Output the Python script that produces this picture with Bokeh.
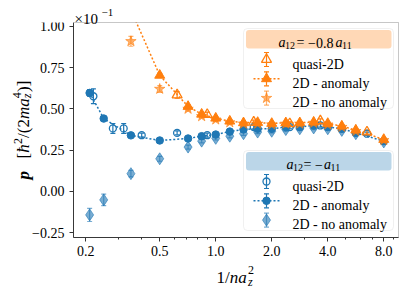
import math
from bokeh.plotting import figure
from bokeh.models import (Range1d, FixedTicker, Label, BoxAnnotation, Whisker,
                          TeeHead, ColumnDataSource)
from bokeh.embed import file_html
from bokeh.resources import INLINE

# ---------------- data ----------------
x_2d = [0.21, 0.25, 0.35, 0.50, 0.71, 0.84, 1.0, 1.19, 1.41, 1.68, 2.0,
        2.38, 2.83, 3.36, 4.0, 4.76, 5.66, 8.0]
blue_anom = [0.597, 0.442, 0.340, 0.309, 0.321, 0.335, 0.345, 0.363, 0.376,
             0.380, 0.380, 0.390, 0.390, 0.400, 0.390, 0.380, 0.355, 0.305]
blue_anom_err = [0.02, 0.01, 0.008, 0.006, 0.006, 0.006, 0.006, 0.006, 0.006,
                 0.006, 0.006, 0.006, 0.006, 0.006, 0.006, 0.006, 0.006, 0.006]
blue_noanom = [-0.142, -0.051, 0.108, 0.198, 0.269, 0.305, 0.322, 0.335, 0.350,
               0.360, 0.365, 0.375, 0.380, 0.385, 0.380, 0.370, 0.350, 0.300]
blue_noanom_err = [0.04, 0.035, 0.02, 0.015, 0.012, 0.01, 0.01, 0.01, 0.01,
                   0.01, 0.01, 0.01, 0.01, 0.01, 0.01, 0.01, 0.01, 0.01]

x_q2d = [0.22, 0.28, 0.32, 0.40, 0.62, 0.90, 1.6, 2.5, 3.65, 6.5]
blue_q2d = [0.577, 0.382, 0.382, 0.341, 0.355, 0.341, 0.390, 0.390, 0.400, 0.350]
blue_q2d_err = [0.045, 0.03, 0.03, 0.012, 0.012, 0.012, 0.012, 0.01, 0.01, 0.01]

x_2d_or = [0.35, 0.50, 0.71, 0.84, 1.0, 1.19, 1.41, 1.68, 2.0, 2.38, 2.83,
           3.36, 4.0, 4.76, 5.66, 8.0]
orange_anom = [1.10, 0.704, 0.515, 0.468, 0.444, 0.426, 0.416, 0.418, 0.412,
               0.416, 0.416, 0.420, 0.412, 0.396, 0.372, 0.315]
orange_anom_err = [0.02, 0.012, 0.01, 0.008, 0.008, 0.008, 0.008, 0.008, 0.008,
                   0.008, 0.008, 0.008, 0.008, 0.008, 0.008, 0.008]
orange_noanom = [0.91, 0.621, 0.500, 0.455, 0.435, 0.418, 0.410, 0.410, 0.405,
                 0.410, 0.410, 0.415, 0.405, 0.390, 0.365, 0.310]
orange_noanom_err = [0.03, 0.02, 0.012, 0.01, 0.01, 0.01, 0.01, 0.01, 0.01,
                     0.01, 0.01, 0.01, 0.01, 0.01, 0.01, 0.01]

x_q2d_or = [0.62, 0.90, 1.6, 2.5, 3.65, 6.5]
orange_q2d = [0.585, 0.466, 0.420, 0.410, 0.428, 0.360]
orange_q2d_err = [0.02, 0.015, 0.012, 0.012, 0.012, 0.012]

x_ticks = [0.2, 0.5, 1.0, 2.0, 4.0, 8.0]
x_tick_labels = ["0.2", "0.5", "1.0", "2.0", "4.0", "8.0"]
x_minor = [0.3, 0.4, 0.6, 0.7, 0.8, 0.9, 3.0, 5.0, 6.0, 7.0, 9.0]
y_ticks = [-0.25, 0.0, 0.25, 0.5, 0.75, 1.0]
y_tick_labels = ["\u22120.25", "0.00", "0.25", "0.50", "0.75", "1.00"]

BLUE = "#1f77b4"
ORANGE = "#ff7f0e"
FONT = "Liberation Serif"

# ---------------- geometry ----------------
X0, X1 = 0.172, 9.6          # visible plot-area data range
Y0, Y1 = -0.279, 1.024
FL, FT, FW, FH = 73, 22, 325, 215   # plot area on the canvas (px)
W, H = 406, 287


def DX(px):
    return X0 * (X1 / X0) ** ((px - FL) / FW)


def DY(py):
    return Y1 - (Y1 - Y0) * (py - FT) / FH


# the frame spans the whole canvas so that texts outside the plot area are not clipped
p = figure(x_axis_type="log", x_range=Range1d(DX(0), DX(W)), y_range=Range1d(DY(H), DY(0)),
           width=W, height=H, min_border=0, min_border_left=0, min_border_right=0,
           min_border_top=0, min_border_bottom=0,
           output_backend="svg", toolbar_location=None)
p.xgrid.visible = False
p.ygrid.visible = False
p.outline_line_color = None
p.background_fill_color = "white"
p.border_fill_color = "white"

p.xaxis.fixed_location = Y0
p.yaxis.fixed_location = X0
p.xaxis.bounds = (X0, X1)
p.yaxis.bounds = (Y0, Y1)
p.xaxis.ticker = FixedTicker(ticks=x_ticks, minor_ticks=x_minor)
p.xaxis.major_label_overrides = dict(zip(x_ticks, x_tick_labels))
p.yaxis.ticker = FixedTicker(ticks=y_ticks)
p.yaxis.major_label_overrides = dict(zip(y_ticks, y_tick_labels))
for ax in (p.xaxis, p.yaxis):
    ax.axis_line_color = "#333333"
    ax.major_tick_line_color = "#333333"
    ax.minor_tick_line_color = "#333333"
    ax.major_tick_in = 0
    ax.major_tick_out = 4
    ax.minor_tick_in = 0
    ax.minor_tick_out = 2
    ax.major_label_text_font = FONT
    ax.major_label_text_font_size = "14px"
    ax.major_label_text_color = "black"
p.yaxis.minor_tick_line_color = None
p.yaxis.major_label_standoff = 5
p.xaxis.major_label_standoff = 4


def errbars(xs, ys, es, color, alpha=1.0, level="underlay"):
    pts = [(x, y, e) for x, y, e in zip(xs, ys, es) if Y0 < y < Y1]
    src = ColumnDataSource(dict(x=[a for a, _, _ in pts],
                                lo=[b - c for _, b, c in pts],
                                hi=[b + c for _, b, c in pts]))
    w = Whisker(source=src, base="x", lower="lo", upper="hi", dimension="height",
                line_color=color, line_alpha=alpha, line_width=1.2, level=level,
                lower_head=TeeHead(size=5, line_color=color, line_alpha=alpha, line_width=1.2),
                upper_head=TeeHead(size=5, line_color=color, line_alpha=alpha, line_width=1.2))
    p.add_layout(w)


DOT = "2 2"

# ----- blue series (a12 = -a11)
errbars(x_2d, blue_noanom, blue_noanom_err, BLUE, 0.6)
p.scatter(x_2d, blue_noanom, marker="diamond", size=12, color=BLUE, alpha=0.6)
errbars(x_2d, blue_anom, blue_anom_err, BLUE)
p.line(x_2d, blue_anom, line_color=BLUE, line_width=1.5, line_dash=DOT)
p.scatter(x_2d, blue_anom, marker="circle", size=7.5, color=BLUE)
errbars(x_q2d, blue_q2d, blue_q2d_err, BLUE)
p.scatter(x_q2d, blue_q2d, marker="circle", size=7, line_color=BLUE,
          fill_color="white", fill_alpha=0.0, line_width=1.3)

# ----- orange series (a12 = -0.8 a11)
errbars(x_2d_or, orange_noanom, orange_noanom_err, ORANGE, 0.6)
p.scatter(x_2d_or, orange_noanom, marker="star", size=11, color=ORANGE, alpha=0.6)
errbars(x_2d_or, orange_anom, orange_anom_err, ORANGE)
p.line(x_2d_or, orange_anom, line_color=ORANGE, line_width=1.5, line_dash=DOT)
p.scatter(x_2d_or, orange_anom, marker="triangle", size=10, color=ORANGE)
errbars(x_q2d_or, orange_q2d, orange_q2d_err, ORANGE)
p.scatter(x_q2d_or, orange_q2d, marker="triangle", size=10, line_color=ORANGE,
          fill_color="white", fill_alpha=0.0, line_width=1.3)

# white mask above the plot area (keeps the clipped look) and the plot-area box
p.add_layout(BoxAnnotation(left=DX(0), right=DX(W), bottom=Y1, top=DY(-5),
                           fill_color="white", fill_alpha=1.0, line_alpha=0.0,
                           level="annotation"))
p.add_layout(BoxAnnotation(left=X0, right=X1, bottom=Y0, top=Y1, fill_alpha=0.0,
                           line_color="#444444", line_width=1.0, level="overlay"))


# ---------------- text helper ----------------
def lab(px, py, text, size=14, style="normal", angle=0.0):
    p.add_layout(Label(x=DX(px), y=DY(py), text=text, text_font=FONT,
                       text_font_size=f"{size}px", text_font_style=style,
                       text_color="black", angle=angle, text_align="left",
                       text_baseline="alphabetic", level="overlay"))


# ---------------- legends ----------------
def legend(top, bottom, head_color, head_pieces, entries):
    p.add_layout(BoxAnnotation(left=DX(243), right=DX(393), top=DY(top), bottom=DY(bottom),
                               fill_color="white", fill_alpha=0.85, line_color="#cccccc",
                               line_width=1, border_radius=4, level="guide"))
    p.add_layout(BoxAnnotation(left=DX(245.5), right=DX(391), top=DY(top + 1.5),
                               bottom=DY(top + 20), fill_color=head_color, fill_alpha=0.3,
                               line_alpha=0, border_radius=3, level="annotation"))
    for (px, dy, txt, size, style) in head_pieces:
        lab(px, top + 14 + dy, txt, size=size, style=style)
    for i, (kind, color, alpha, marker, filled, text) in enumerate(entries):
        yc = top + 31 + 19.3 * i
        e = 7 * (Y1 - Y0) / FH
        src = ColumnDataSource(dict(x=[DX(266)], lo=[DY(yc) - e], hi=[DY(yc) + e]))
        p.add_layout(Whisker(source=src, base="x", lower="lo", upper="hi",
                             dimension="height", line_color=color, line_alpha=alpha,
                             line_width=1.2, level="overlay",
                             lower_head=TeeHead(size=5, line_color=color, line_alpha=alpha, line_width=1.2),
                             upper_head=TeeHead(size=5, line_color=color, line_alpha=alpha, line_width=1.2)))
        if kind == "line":
            p.line([DX(253), DX(280)], [DY(yc), DY(yc)], line_color=color, line_width=1.5,
                   line_dash=DOT, level="overlay")
        if filled:
            p.scatter([DX(266)], [DY(yc)], marker=marker[0], size=marker[1], color=color,
                      alpha=alpha, level="overlay")
        else:
            p.scatter([DX(266)], [DY(yc)], marker=marker[0], size=marker[1], line_color=color,
                      fill_alpha=0.0, line_width=1.3, level="overlay")
        lab(292, yc + 4.5, text, size=14)


legend(28, 108, ORANGE,
       [(278, 0, "a", 14, "italic"), (284.5, 3, "12", 10, "normal"),
        (296, 0, "=", 14, "normal"), (307.5, 0, "\u22120.8", 14, "normal"),
        (335, 0, "a", 14, "italic"), (341.5, 3, "11", 10, "normal")],
       [("none", ORANGE, 1.0, ("triangle", 10), False, "quasi-2D"),
        ("line", ORANGE, 1.0, ("triangle", 10), True, "2D - anomaly"),
        ("none", ORANGE, 0.6, ("star", 11), True, "2D - no anomaly")])

legend(150, 230, BLUE,
       [(286, 0, "a", 14, "italic"), (292.5, 3, "12", 10, "normal"),
        (303, 0, "=", 14, "normal"), (314.5, 0, "\u2212", 14, "normal"),
        (323.5, 0, "a", 14, "italic"), (330, 3, "11", 10, "normal")],
       [("none", BLUE, 1.0, ("circle", 7), False, "quasi-2D"),
        ("line", BLUE, 1.0, ("circle", 7.5), True, "2D - anomaly"),
        ("none", BLUE, 0.6, ("diamond", 12), True, "2D - no anomaly")])

# ---------------- axis labels & offset text ----------------
lab(74, 18.5, "\u00d710", size=15)
lab(101, 12, "\u22121", size=11)

# x label: 1/na_z^2
lab(216, 277, "1/", size=17)
lab(229.2, 277, "na", size=17, style="italic")
lab(247.5, 281, "z", size=12, style="italic")
lab(247.5, 269, "2", size=12)

# y label (rotated): p  [hbar^2/(2 m a_z^4)]
R = math.pi / 2
BX = 23
S0 = 179
ypieces = [
    (0, 0, "p", 17, "bold italic"),
    (21, 0, "[", 17, "normal"),
    (26.7, 0, "\u0127", 17, "italic"),
    (35.5, -6, "2", 12, "normal"),
    (41.5, 0, "/(2", 17, "normal"),
    (60.4, 0, "ma", 17, "italic"),
    (81.2, 3.5, "z", 12, "italic"),
    (81.2, -6.5, "4", 12, "normal"),
    (87.5, 0, ")]", 17, "normal"),
]
for s, dperp, txt, size, style in ypieces:
    lab(BX + dperp, S0 - s, txt, size=size, style=style, angle=R)

open("out.html", "w").write(file_html(p, INLINE))
